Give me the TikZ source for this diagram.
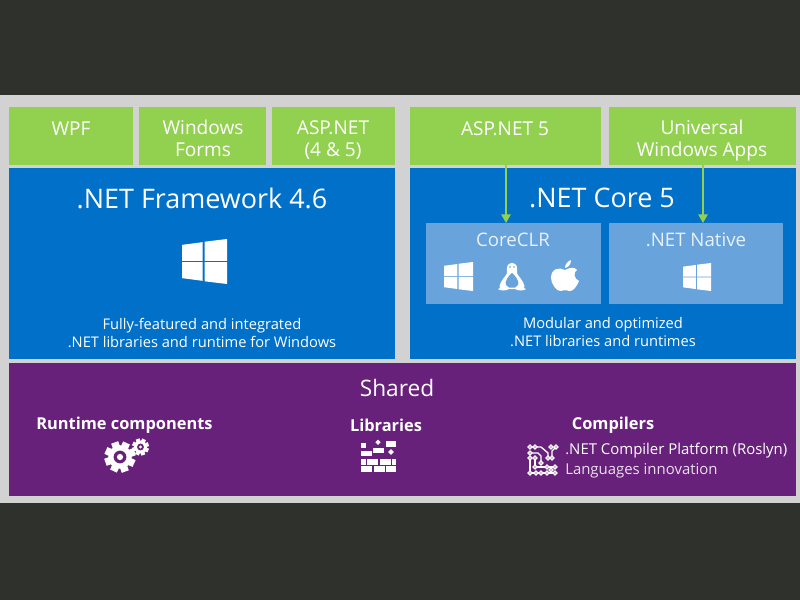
\documentclass[tikz,border=0pt]{standalone}
\usepackage{fontspec}
\setmainfont{Open Sans}
\usetikzlibrary{arrows.meta}
\definecolor{dark}{HTML}{2F312C}
\definecolor{panel}{HTML}{D2D2D2}
\definecolor{leaf}{HTML}{92D14F}
\definecolor{azure}{HTML}{0070C8}
\definecolor{sky}{HTML}{68A3DB}
\definecolor{plum}{HTML}{68217A}
\newcommand{\fs}[1]{\fontsize{#1}{\the\dimexpr #1pt*118/100\relax}\selectfont}
\tikzset{
  area/.style={inner sep=0pt,outer sep=0pt,anchor=north west},
  green box/.style={area,fill=leaf},
  blue box/.style={area,fill=azure},
  sky box/.style={area,fill=sky},
  plum box/.style={area,fill=plum},
  txt/.style={text=white,align=center,inner sep=0pt,font=\fs{#1}},
  btxt/.style={text=white,align=center,inner sep=0pt,font=\fs{#1}\bfseries},
  link/.style={draw=leaf,line width=1.3pt,-{Triangle[length=6.5pt,width=7pt]}},
}
\newcommand{\bx}[6]{\node[#6,minimum width=(#4-#2)*0.75pt,minimum height=(#5-#3)*0.75pt] (#1) at (#2,#3) {};}
\newcommand{\winlogo}[3]{\begin{scope}[shift={(#1,#2)},x=#3*0.75pt,y=-#3*0.75pt]
 \fill[white] (0,.13)--(.46,.07)--(.46,.485)--(0,.485)--cycle;
 \fill[white] (.5,.06)--(1,0)--(1,.485)--(.5,.485)--cycle;
 \fill[white] (0,.515)--(.46,.515)--(.46,.93)--(0,.87)--cycle;
 \fill[white] (.5,.515)--(1,.515)--(1,1)--(.5,.94)--cycle;
\end{scope}}
\newcommand{\gearicon}[3]{\begin{scope}[shift={(#1,#2)}]
 \foreach \a in {0,45,...,315}{\fill[white,rotate=\a+20] (-.24*#3,.7*#3) rectangle (.24*#3,#3);}
 \fill[white,even odd rule] (0,0) circle[radius=.76*#3] (0,0) circle[radius=.42*#3];
 \fill[white] (0,0) circle[radius=.2*#3];
\end{scope}}
\begin{document}
\begin{tikzpicture}[x=0.75pt,y=-0.75pt]
\useasboundingbox (0,0) rectangle (800,600);
\fill[dark] (0,0) rectangle (800,600);
\fill[panel] (0,95) rectangle (800,503);
% boxes
\bx{wpf}{9}{107}{133}{165}{green box}
\bx{forms}{139}{107}{266}{165}{green box}
\bx{asp}{272}{107}{395}{165}{green box}
\bx{aspfive}{410}{107}{601}{165}{green box}
\bx{uwa}{609}{107}{796}{165}{green box}
\bx{fx}{9}{168}{395}{359}{blue box}
\bx{core}{410}{168}{796}{359}{blue box}
\bx{clr}{426}{223}{601}{304}{sky box}
\bx{native}{609}{223}{783}{304}{sky box}
\bx{shared}{9}{363}{796}{496}{plum box}
% green labels
\node[txt=14.3] (twpf) at (71,128.5) {WPF};
\node[txt=14.3] (tforms) at (203,138.5) {Windows\\[-.4pt]Forms};
\node[txt=14.3] (tasp) at (333,140) {ASP.NET\\[-.4pt](4 \& 5)};
\node[txt=14.3] (taspfive) at (505,128.5) {ASP.NET 5};
\node[txt=14.3] (tuwa) at (702,140.5) {Universal\\[-.4pt]Windows Apps};
% blue labels
\node[txt=20.2] (tfx) at (202,198) {.NET Framework 4.6};
\node[txt=20.2] (tcore) at (602,198) {.NET Core 5};
\node[txt=11] (dfx) at (202,333) {Fully-featured and integrated\\.NET libraries and runtime for Windows};
\node[txt=11] (dcore) at (603,332) {Modular and optimized\\.NET libraries and runtimes};
\node[txt=14,text=white!85!sky] (tclr) at (513,240) {CoreCLR};
\node[txt=14,text=white!85!sky] (tnative) at (696,240) {.NET Native};
% shared labels
\node[txt=17] (tshared) at (397,388) {Shared};
\node[btxt=12.3] (truntime) at (124.5,425.5) {Runtime components};
\node[btxt=12.3] (tlib) at (386,425.5) {Libraries};
\node[btxt=12.3] (tcomp) at (613,425.5) {Compilers};
\node[txt=11.2,anchor=west,align=left] (troslyn) at (565,450.5) {.NET Compiler Platform (Roslyn)};
\node[txt=11.2,anchor=west,align=left,text=white!85!plum] (tlang) at (565,471) {Languages innovation};
% connectors
\coordinate (a) at (506,0);
\coordinate (b) at (703,0);
\draw[link] (aspfive.south -| a) -- (clr.north -| a);
\draw[link] (uwa.south -| b) -- (native.north -| b);
% windows icons
\winlogo{182}{239}{45}
\winlogo{444}{262}{29}
\winlogo{683}{263}{28}
% penguin
\begin{scope}[shift={(512,279)}]
 \fill[white] (0,-16) .. controls (-5,-16) and (-5.5,-11) .. (-5,-8) .. controls (-5,-6) and (-5,-5) .. (-6,-4) .. controls (-10,1) and (-14,7) .. (-12,9) -- (-14,10) .. controls (-12,12) and (-6,12) .. (-3,10) -- (3,10) .. controls (6,12) and (12,12) .. (14,10) -- (12,9) .. controls (14,7) and (10,1) .. (6,-4) .. controls (5,-5) and (5,-6) .. (5,-8) .. controls (5.5,-11) and (5,-16) .. (0,-16) -- cycle;
 \fill[sky] (-2,-12) circle[radius=.9] (2,-12) circle[radius=.9];
 \fill[sky] (0,-6) .. controls (-3,-4) and (-8,3) .. (-6,6) -- (-3,8.5) -- (3,8.5) -- (6,6) .. controls (8,3) and (3,-4) .. (0,-6) -- cycle;
\end{scope}
% apple
\begin{scope}[shift={(565,277)}]
 \fill[white] (0,-7) .. controls (-5,-10) and (-14,-9) .. (-14,1) .. controls (-14,7) and (-8,15) .. (-4,14) .. controls (-2,13) and (2,13) .. (4,14) .. controls (8,15) and (12,9) .. (14,4) .. controls (9,2) and (8,-5) .. (12,-7) .. controls (9,-11) and (4,-9) .. (0,-7) -- cycle;
 \fill[white] (0,-9) .. controls (0,-13) and (3,-16) .. (6,-17) .. controls (6,-13) and (4,-10) .. (0,-9) -- cycle;
\end{scope}
% gears
\gearicon{120}{457}{15.5}
\gearicon{140.5}{447}{8.5}
% bricks
 \fill[white] (361,443) rectangle (365.5,448);
 \fill[white] (386,441) rectangle (396,447);
 \fill[white] (378,439.5) -- (380.7,442.2) -- (378,445) -- (375.3,442.2) -- cycle;
 \fill[white] (373,448) rectangle (384,453);
 \fill[white] (391,449) -- (393.8,452) -- (391,455) -- (388.2,452) -- cycle;
 \fill[white] (361,450.5) rectangle (372,456);
 \fill[white] (361,459) rectangle (365.5,464.5);
 \fill[white] (367,459) rectangle (378,464.5);
 \fill[white] (379.5,459) rectangle (390.5,464.5);
 \fill[white] (392,459) rectangle (396,464.5);
 \fill[white] (361,466) rectangle (372,472);
 \fill[white] (373.5,466) rectangle (384.5,472);
 \fill[white] (386,466) rectangle (396,472);
% circuit
\begin{scope}[line width=1pt]
 \draw[white] (530,447) -- (541,447) -- (548,453) -- (548,458);
 \draw[white] (530,453) -- (538,453) -- (541,456) -- (541,463);
 \draw[white] (556,447) -- (552,451) -- (552,458);
 \draw[white] (530,458) -- (530,473) -- (555,473);
 \draw[white] (535,458) -- (535,467) -- (555,467);
 \foreach \p in {(530,447),(535,447),(530,453),(551,447),(556,447),(530,458),(535,458),(541,463),(548,458),(552,458),(535,467),(547,467),(555,467),(530,473),(536,473),(541,473),(547,473),(555,473),(551,470)}
  \draw[white,fill=plum] \p circle[radius=1.9];
\end{scope}
\end{tikzpicture}
\end{document}
